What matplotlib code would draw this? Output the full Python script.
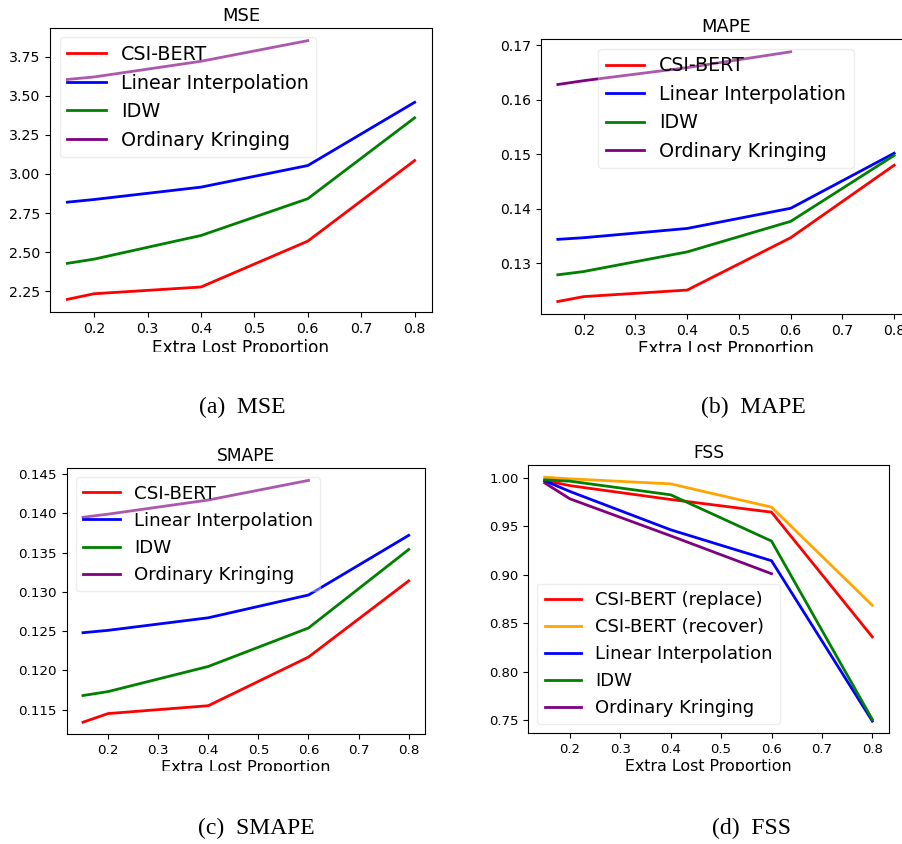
import numpy as np
import matplotlib
matplotlib.use("Agg")
import matplotlib.pyplot as plt
from matplotlib.patches import Rectangle

# ---- data ----
lost = [0.15, 0.2, 0.4, 0.6, 0.8]

mse_bert = [2.199, 2.235, 2.278, 2.571, 3.086]
mse_linear = [2.820, 2.837, 2.916, 3.054, 3.458]
mse_idw = [2.429, 2.456, 2.607, 2.842, 3.359]
mse_krig = [3.604, 3.620, 3.720, 3.852]

mape_bert = [0.1230, 0.1239, 0.1251, 0.1347, 0.1480]
mape_linear = [0.1344, 0.1347, 0.1364, 0.1401, 0.1502]
mape_idw = [0.1279, 0.1285, 0.1321, 0.1377, 0.1498]
mape_krig = [0.1628, 0.1635, 0.1659, 0.1688]

smape_bert = [0.1134, 0.1145, 0.1155, 0.1217, 0.1314]
smape_linear = [0.1248, 0.1251, 0.1267, 0.1296, 0.1372]
smape_idw = [0.1168, 0.1173, 0.1205, 0.1254, 0.1354]
smape_krig = [0.1395, 0.1399, 0.1417, 0.1442]

fss_replace = [0.9973, 0.9920, 0.9777, 0.9646, 0.8359]
fss_recover = [1.0007, 0.9990, 0.9938, 0.9698, 0.8685]
fss_linear = [0.9970, 0.9860, 0.9464, 0.9145, 0.7490]
fss_idw = [0.9980, 0.9966, 0.9825, 0.9348, 0.7507]
fss_krig = [0.9948, 0.9784, 0.9402, 0.9011]

names = ["CSI-BERT", "Linear Interpolation", "IDW", "Ordinary Kringing"]
fss_names = ["CSI-BERT (replace)", "CSI-BERT (recover)", "Linear Interpolation",
             "IDW", "Ordinary Kringing"]
captions = ["(a)  MSE", "(b)  MAPE", "(c)  SMAPE", "(d)  FSS"]

W, H = 902, 844
fig = plt.figure(figsize=(W / 100, H / 100), dpi=100)


def px_axes(left, right, top, bottom):
    return fig.add_axes([left / W, 1 - bottom / H, (right - left) / W, (bottom - top) / H])


def draw_panel(ax, title, series, labels, colors, loc, s=1.0):
    for ys, lab, c in zip(series, labels, colors):
        ax.plot(lost[:len(ys)], ys, color=c, lw=2, label=lab)
    ax.set_title(title, fontsize=13 * s, pad=5)
    ax.set_xlabel("Extra Lost Proportion", fontsize=12.2 * s, labelpad=2)
    ax.tick_params(labelsize=10.2 * s)
    ax.legend(loc=loc, fontsize=13.8 * s, framealpha=0.35)


cols4 = ["red", "blue", "green", "purple"]

ax1 = px_axes(50, 432, 27.7, 312.3)
draw_panel(ax1, "MSE", [mse_bert, mse_linear, mse_idw, mse_krig], names, cols4, "upper left")

ax2 = px_axes(541, 911, 39.3, 314)
draw_panel(ax2, "MAPE", [mape_bert, mape_linear, mape_idw, mape_krig], names, cols4,
           "upper center", s=0.99)
ax2.set_yticks([0.13, 0.14, 0.15, 0.16, 0.17])

ax3 = px_axes(66.7, 425, 468.3, 734.3)
draw_panel(ax3, "SMAPE", [smape_bert, smape_linear, smape_idw, smape_krig], names, cols4,
           "upper left", s=0.95)

ax4 = px_axes(528.3, 888.7, 465, 733.3)
draw_panel(ax4, "FSS", [fss_replace, fss_recover, fss_linear, fss_idw, fss_krig], fss_names,
           ["red", "orange", "blue", "green", "purple"], "lower left", s=0.94)

# the sub-images were cropped just under the axis labels
fig.add_artist(Rectangle((0, 1 - 380 / H), 1, 28 / H, transform=fig.transFigure,
                         facecolor="white", edgecolor="none", zorder=10))
fig.add_artist(Rectangle((0, 1 - 800 / H), 1, 29 / H, transform=fig.transFigure,
                         facecolor="white", edgecolor="none", zorder=10))

cap_pos = [(242, 407), (753, 407), (256, 828), (751, 828)]
for txt, (cx, cy) in zip(captions, cap_pos):
    fig.text(cx / W, 1 - cy / H, txt, ha="center", va="center", fontsize=17,
             family="Liberation Serif", zorder=11)

fig.savefig("out.png", dpi=100)
